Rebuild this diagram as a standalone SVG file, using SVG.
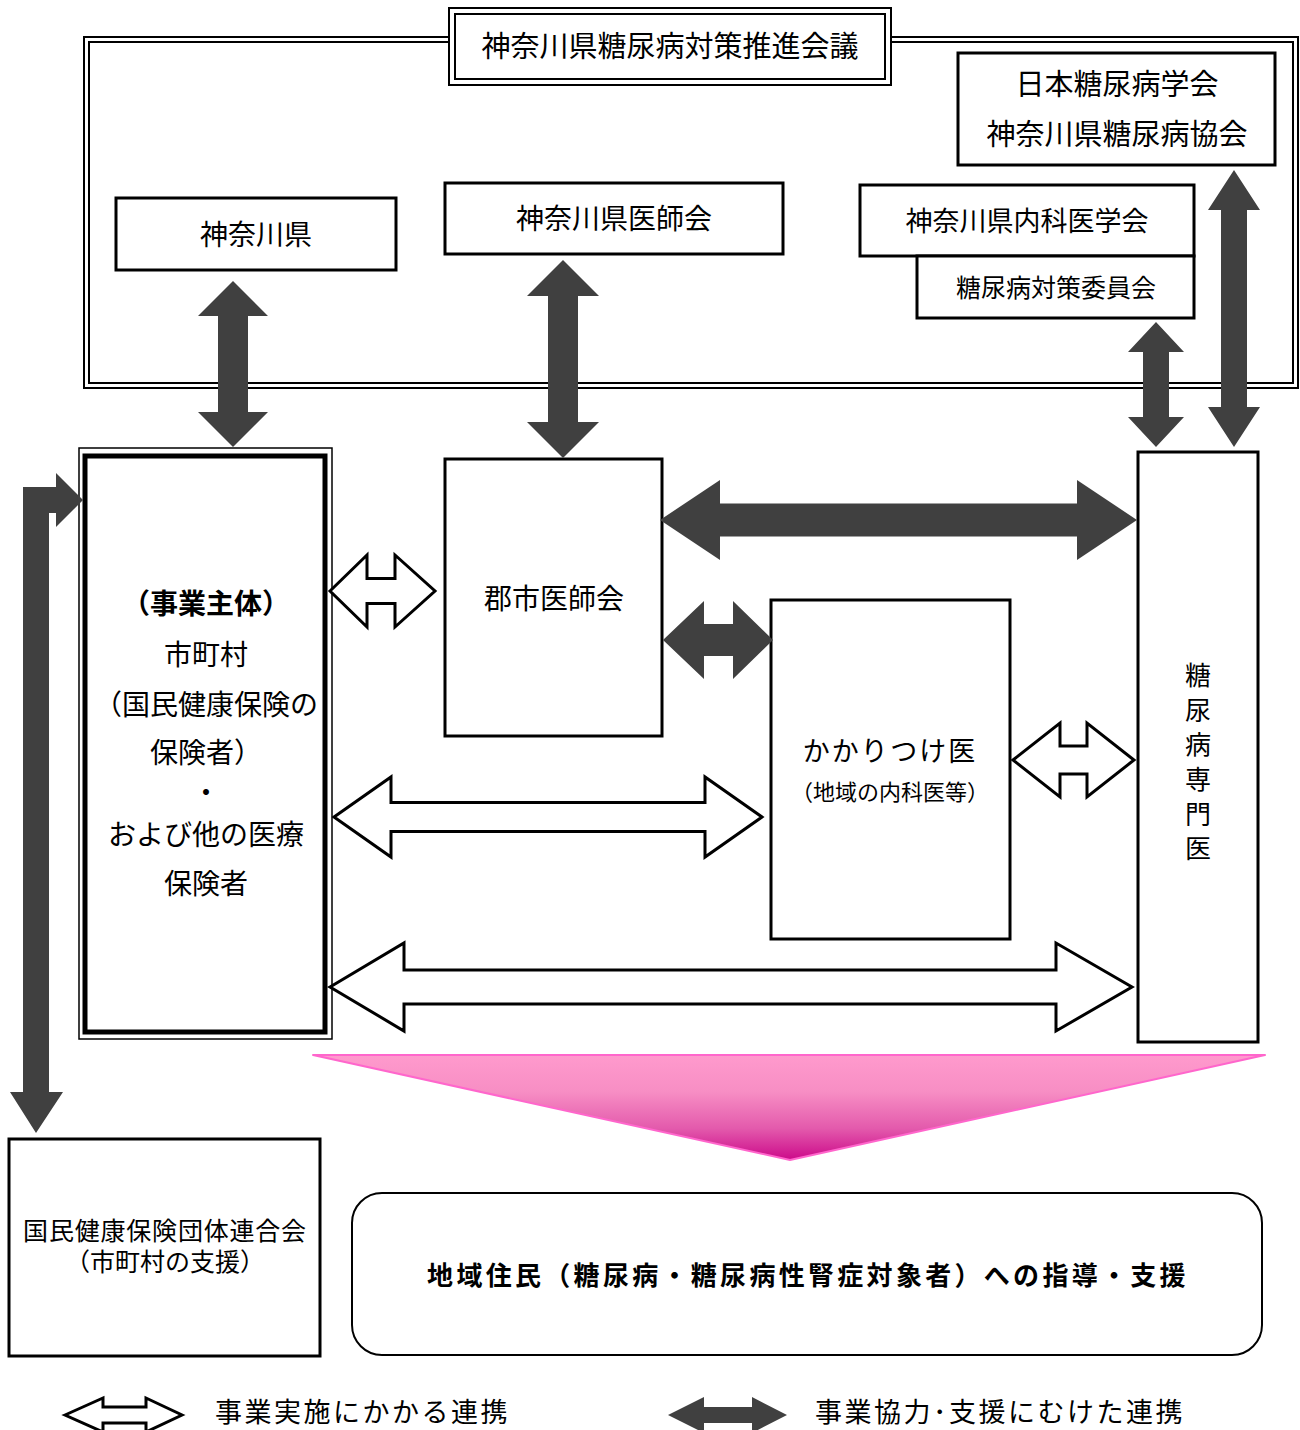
<svg xmlns="http://www.w3.org/2000/svg" width="1300" height="1430" viewBox="0 0 1300 1430">
<style>
text{font-family:"Noto Sans CJK JP","Noto Sans",sans-serif;fill:#000;text-anchor:middle}
.box{fill:#fff;stroke:#000;stroke-width:3}
.dark{fill:#404040;stroke:none}
.white{fill:#fff;stroke:#000;stroke-width:3;stroke-linejoin:miter}
.t29{font-size:29px}
.t28{font-size:28px}
.t26{font-size:26px}
.t25{font-size:25px}
.t22{font-size:22px}
.b{font-weight:bold}
</style>
<defs>
<linearGradient id="pink" x1="0" y1="0" x2="0" y2="1">
<stop offset="0" stop-color="#FF9ACD"/>
<stop offset="0.35" stop-color="#F78EC4"/>
<stop offset="0.7" stop-color="#E35AAC"/>
<stop offset="1" stop-color="#CC0A8A"/>
</linearGradient>
</defs>
<rect width="1300" height="1430" fill="#fff"/>

<g id="council-frame">
<rect x="84" y="37" width="1214" height="351" fill="none" stroke="#000" stroke-width="2"/>
<rect x="89" y="42" width="1204" height="341" fill="none" stroke="#000" stroke-width="2"/>
</g>

<g id="council-title">
<rect x="449" y="8" width="442" height="77" fill="#fff" stroke="#000" stroke-width="2"/>
<rect x="455" y="14" width="430" height="65" fill="#fff" stroke="#000" stroke-width="2"/>
<text x="670" y="57" class="t29">神奈川県糖尿病対策推進会議</text>
</g>

<g id="pref">
<rect x="116" y="198" width="280" height="72" class="box"/>
<text x="256" y="245" class="t28">神奈川県</text>
</g>

<g id="pref-med">
<rect x="445" y="183" width="338" height="71" class="box"/>
<text x="614" y="229" class="t28">神奈川県医師会</text>
</g>

<g id="jds">
<rect x="958" y="53" width="317" height="112" class="box"/>
<text x="1117" y="95" class="t29">日本糖尿病学会</text>
<text x="1117" y="145" class="t29">神奈川県糖尿病協会</text>
</g>

<g id="internal-med">
<rect x="860" y="185" width="334" height="71" class="box"/>
<text x="1027" y="231" style="font-size:27px">神奈川県内科医学会</text>
</g>

<g id="committee">
<rect x="917" y="256" width="277" height="62" class="box"/>
<text x="1056" y="297" class="t25">糖尿病対策委員会</text>
</g>

<g id="municipality">
<rect x="79" y="448" width="253" height="591" fill="#fff" stroke="#000" stroke-width="1.5"/>
<rect x="85" y="456" width="240" height="576" fill="#fff" stroke="#000" stroke-width="5"/>
<text x="206" y="614" class="t28 b">（事業主体）</text>
<text x="206" y="665" class="t28">市町村</text>
<text x="206" y="715" class="t28">（国民健康保険の</text>
<text x="206" y="763" class="t28">保険者）</text>
<text x="206" y="803" class="t28">・</text>
<text x="206" y="845" class="t28">および他の医療</text>
<text x="206" y="894" class="t28">保険者</text>
</g>

<g id="gunshi">
<rect x="445" y="459" width="217" height="277" class="box"/>
<text x="554" y="609" class="t28">郡市医師会</text>
</g>

<g id="kakaritsuke">
<rect x="771" y="600" width="239" height="339" class="box"/>
<text x="890" y="761" style="font-size:27px;letter-spacing:2px">かかりつけ医</text>
<text x="890" y="800" class="t22">（地域の内科医等）</text>
</g>

<g id="specialist">
<rect x="1138" y="452" width="120" height="590" class="box"/>
<text x="1198" y="685" class="t26">糖</text>
<text x="1198" y="720" class="t26">尿</text>
<text x="1198" y="754" class="t26">病</text>
<text x="1198" y="789" class="t26">専</text>
<text x="1198" y="824" class="t26">門</text>
<text x="1198" y="858" class="t26">医</text>
</g>

<g id="kokuhoren">
<rect x="9" y="1139" width="311" height="217" class="box"/>
<text x="165" y="1240" style="font-size:25px;letter-spacing:0.8px">国民健康保険団体連合会</text>
<text x="165" y="1271" class="t25">（市町村の支援）</text>
</g>

<g id="residents">
<rect x="352" y="1193" width="910" height="162" rx="30" ry="30" fill="#fff" stroke="#000" stroke-width="2"/>
<text x="808" y="1285" style="font-size:26px;letter-spacing:3.3px" class="b">地域住民（糖尿病・糖尿病性腎症対象者）への指導・支援</text>
</g>

<g id="connectors">
<polygon class="dark" points="233,281 268,316 248,316 248,412 268,412 233,447 198,412 218,412 218,316 198,316"/>
<polygon class="dark" points="563,260 599,296 578,296 578,422 599,422 563,458 527,422 548,422 548,296 527,296"/>
<polygon class="dark" points="1156,322 1184,352 1169,352 1169,417 1184,417 1156,447 1128,417 1143,417 1143,352 1128,352"/>
<polygon class="dark" points="1234,170 1260,210 1247,210 1247,407 1260,407 1234,447 1208,407 1221,407 1221,210 1208,210"/>
<polygon class="dark" points="660,520 720,480 720,503.5 1077,503.5 1077,480 1137,520 1077,560 1077,536.5 720,536.5 720,560"/>
<polygon class="dark" points="663,640 704,601 704,624 733,624 733,601 773,640 733,679 733,656 704,656 704,679"/>
<polygon class="dark" points="23,1092 10,1092 36,1133 63,1092 49,1092 49,513 56,513 56,527 83,500 56,473 56,487 23,487"/>
<polygon class="white" points="330,591 367,555 367,578.5 395,578.5 395,555 435,591 395,627 395,603.5 367,603.5 367,627"/>
<polygon class="white" points="334,817 391,777 391,802.5 705,802.5 705,777 762,817 705,857 705,831.5 391,831.5 391,857"/>
<polygon class="white" points="1013,760 1060,723 1060,746 1087,746 1087,723 1134,760 1087,797 1087,774 1060,774 1060,797"/>
<polygon class="white" points="330,987 404,943 404,970 1056,970 1056,943 1132,987 1056,1031 1056,1004 404,1004 404,1031"/>
<polygon points="313,1055 1265,1055 790,1160" fill="url(#pink)" stroke="#FF66CC" stroke-width="2" stroke-linejoin="round"/>
</g>

<g id="legend">
<polygon class="white" points="65,1415 103,1398 103,1407 146,1407 146,1398 182,1415 146,1432 146,1423 103,1423 103,1432"/>
<text x="215" y="1422" style="font-size:27px;letter-spacing:2.5px;text-anchor:start">事業実施にかかる連携</text>
<polygon class="dark" points="668,1415 704,1397 704,1407 752,1407 752,1397 787,1415 752,1433 752,1423 704,1423 704,1433"/>
<text x="815" y="1422" style="font-size:27px;letter-spacing:2.5px;text-anchor:start">事業協力･支援にむけた連携</text>
</g>
</svg>
